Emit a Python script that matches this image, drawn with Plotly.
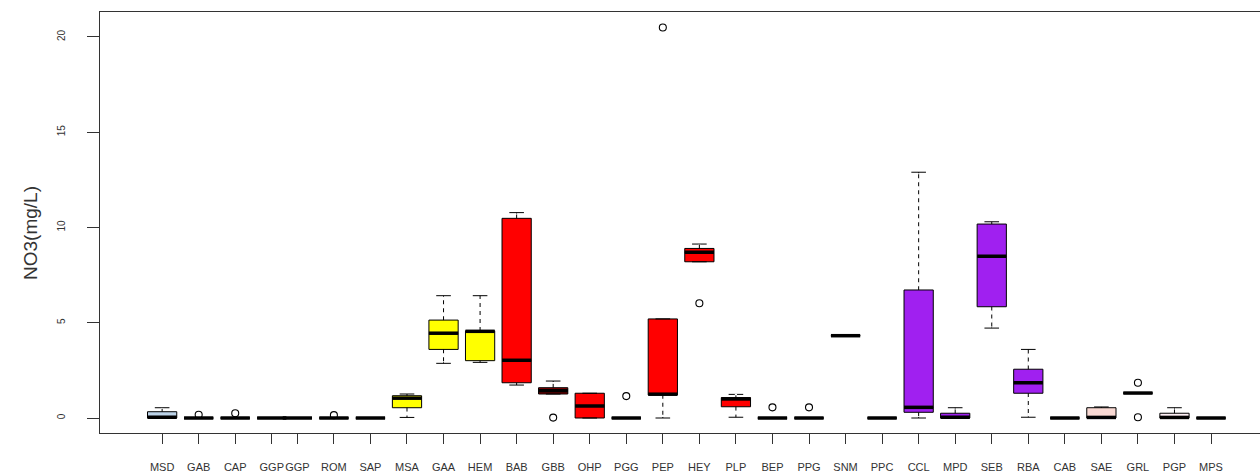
import numpy as np
import plotly.graph_objects as go

# ---- data ----
categories = ["MSD", "GAB", "CAP", "GGP", "GGP", "ROM", "SAP", "MSA", "GAA", "HEM",
              "BAB", "GBB", "OHP", "PGG", "PEP", "HEY", "PLP", "BEP", "PPG", "SNM",
              "PPC", "CCL", "MPD", "SEB", "RBA", "CAB", "SAE", "GRL", "PGP", "MPS"]

lower_whisker = [0.0, 0.0, 0.0, 0.0, 0.0, 0.0, 0.0, 0.03, 2.87, 2.92,
                 1.73, 1.26, 0.0, 0.0, 0.0, 8.2, 0.04, 0.0, 0.0, 4.32,
                 0.0, 0.0, 0.0, 4.72, 0.04, 0.0, 0.0, 1.31, 0.0, 0.0]
q1 = [0.0, 0.0, 0.0, 0.0, 0.0, 0.0, 0.0, 0.54, 3.6, 3.01,
      1.85, 1.26, 0.0, 0.0, 1.21, 8.2, 0.59, 0.0, 0.0, 4.32,
      0.0, 0.3, 0.0, 5.84, 1.3, 0.0, 0.0, 1.31, 0.0, 0.0]
median = [0.04, 0.0, 0.0, 0.0, 0.0, 0.0, 0.0, 1.04, 4.45, 4.55,
          3.03, 1.43, 0.63, 0.0, 1.25, 8.7, 1.0, 0.0, 0.0, 4.32,
          0.0, 0.56, 0.04, 8.49, 1.85, 0.0, 0.03, 1.31, 0.03, 0.0]
q3 = [0.33, 0.0, 0.0, 0.0, 0.0, 0.0, 0.0, 1.17, 5.14, 4.58,
      10.48, 1.59, 1.3, 0.0, 5.2, 8.9, 1.07, 0.0, 0.0, 4.32,
      0.0, 6.72, 0.25, 10.18, 2.56, 0.0, 0.54, 1.31, 0.25, 0.0]
upper_whisker = [0.54, 0.0, 0.0, 0.0, 0.0, 0.0, 0.0, 1.26, 6.42, 6.42,
                 10.78, 1.94, 1.3, 0.0, 5.2, 9.13, 1.24, 0.0, 0.0, 4.32,
                 0.0, 12.9, 0.54, 10.3, 3.6, 0.0, 0.58, 1.31, 0.54, 0.0]
outliers = [[], [0.17], [0.25], [], [], [0.15], [], [], [], [],
            [], [0.02], [], [1.15], [20.5], [6.02], [], [0.56], [0.56], [],
            [], [], [], [], [], [], [], [1.85, 0.04], [], []]
fill_colors = ["#BCD3E8", "#BCD3E8", "#BCD3E8", "#BCD3E8", "#BCD3E8", "#BCD3E8", "#BCD3E8",
               "#FFFF00", "#FFFF00", "#FFFF00",
               "#FF0000", "#8B0000", "#FF0000", "#FF0000", "#FF0000", "#FF0000", "#FF0000",
               "#FF0000", "#FF0000", "#FF0000",
               "#A020F0", "#A020F0", "#A020F0", "#A020F0", "#A020F0",
               "#F9D9D3", "#F9D9D3", "#F9D9D3", "#FFF0F5", "#FFF0F5"]
y_ticks = [0, 5, 10, 15, 20]

# ---- positions (the reference image is spliced: first four boxes sit slightly right) ----
pos = np.arange(1, len(categories) + 1, dtype=float)
pos[:4] += 0.3
half_w = 0.4

fig = go.Figure()

for i, cat in enumerate(categories):
    fig.add_trace(go.Box(
        x=[pos[i]], q1=[q1[i]], median=[median[i]], q3=[q3[i]],
        lowerfence=[lower_whisker[i]], upperfence=[upper_whisker[i]],
        width=2 * half_w, whiskerwidth=0.5, boxpoints=False,
        fillcolor=fill_colors[i], line=dict(color="black", width=1),
        name=cat, showlegend=False,
    ))

# dashed look for whiskers: white dashes laid over the solid whisker lines
wx, wy = [], []
for i in range(len(categories)):
    if upper_whisker[i] - q3[i] > 0.15:
        wx += [pos[i], pos[i], None]
        wy += [q3[i] + 0.2, upper_whisker[i] - 0.05, None]
    if q1[i] - lower_whisker[i] > 0.15:
        wx += [pos[i], pos[i], None]
        wy += [q1[i] - 0.2, lower_whisker[i] + 0.05, None]
fig.add_trace(go.Scatter(x=wx, y=wy, mode="lines",
                         line=dict(color="white", width=2.2, dash="4px,4px"),
                         hoverinfo="skip", showlegend=False))

# thick median lines
mx, my = [], []
for i in range(len(categories)):
    mx += [pos[i] - half_w, pos[i] + half_w, None]
    my += [median[i], median[i], None]
fig.add_trace(go.Scatter(x=mx, y=my, mode="lines",
                         line=dict(color="black", width=3.5),
                         hoverinfo="skip", showlegend=False))

# outliers
ox, oy = [], []
for i, vals in enumerate(outliers):
    for v in vals:
        ox.append(pos[i])
        oy.append(v)
fig.add_trace(go.Scatter(x=ox, y=oy, mode="markers",
                         marker=dict(symbol="circle-open", size=7,
                                     color="black", line=dict(width=1.1)),
                         showlegend=False))

fig.update_layout(
    width=1260, height=475,
    margin=dict(l=100, r=0, t=12, b=42),
    paper_bgcolor="white", plot_bgcolor="white",
    boxmode="overlay",
    font=dict(family="Arial, Liberation Sans, sans-serif", color="#333333"),
    xaxis=dict(
        range=[-0.4, 31.34], tickmode="array", tickvals=pos, ticktext=categories,
        ticks="outside", ticklen=10, tickcolor="#333333", tickwidth=1,
        tickfont=dict(size=11, color="#333333"), ticklabelstandoff=14,
        showline=True, linecolor="#333333", linewidth=1, mirror=True,
        showgrid=False, zeroline=False, tickangle=0,
    ),
    yaxis=dict(
        range=[-0.787, 21.31], tickmode="array", tickvals=y_ticks,
        ticktext=[str(v) for v in y_ticks],
        ticks="outside", ticklen=12, tickcolor="#333333", tickwidth=1,
        tickfont=dict(size=10, color="#333333"), tickangle=-90, ticklabelstandoff=18,
        showline=True, linecolor="#333333", linewidth=1, mirror=False,
        showgrid=False, zeroline=False,
    ),
    annotations=[dict(
        text="NO3(mg/L)", textangle=-90, xref="paper", yref="paper",
        x=(30 - 100) / 1160, y=(433 - 233) / 421, xanchor="center", yanchor="middle",
        showarrow=False, font=dict(size=19, color="#333333"),
    )],
)

fig.write_html("out.html", config={"displayModeBar": False},
               post_script="document.body.style.margin='0';")
